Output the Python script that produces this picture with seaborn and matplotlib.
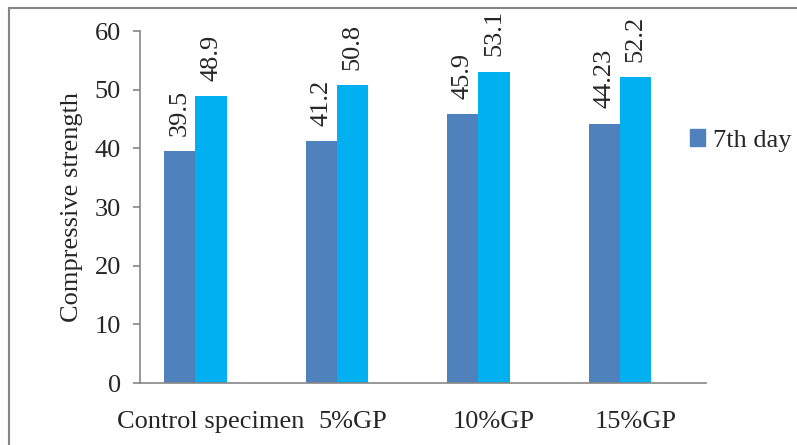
import numpy as np
import pandas as pd
import seaborn as sb
import matplotlib.pyplot as plt
from matplotlib.patches import Patch, Rectangle

#%% Data
categories = ['Control specimen', '5%GP', '10%GP', '15%GP']
day7 = [39.5, 41.2, 45.9, 44.23]
series2 = [48.9, 50.8, 53.1, 52.2]
series3 = [np.nan, np.nan, np.nan, np.nan]   # empty third series (keeps the gap on the right)
series_names = ['7th day', 'series 2', 'series 3']
yticks = [0, 10, 20, 30, 40, 50, 60]

df = pd.DataFrame({
    'category': categories * 3,
    'series': [series_names[0]] * 4 + [series_names[1]] * 4 + [series_names[2]] * 4,
    'value': day7 + series2 + series3})

#%% Style
sb.set_style('white')
plt.rcParams['font.family'] = ['Liberation Serif', 'DejaVu Serif']
gray = '#868686'
dark_blue = '#4F81BD'
light_blue = '#00B0F0'
fs = 19

fig = plt.figure(figsize=(7.97, 4.45), dpi=100)
ax = fig.add_axes([0.176, 0.139, 0.710, 0.791])

sb.barplot(data=df, x='category', y='value', hue='series',
           hue_order=series_names, order=categories,
           palette=[dark_blue, light_blue, '#A5A5A5'],
           width=0.66, errorbar=None, linewidth=0, saturation=1,
           legend=False, ax=ax)

# rotated value labels above the bars
for cont, vals in zip(ax.containers[:2], [day7, series2]):
    ax.bar_label(cont, labels=['{:g}'.format(v) for v in vals],
                 rotation=90, padding=11, fontsize=fs)

ax.set_ylim(0, 60)
ax.set_yticks(yticks)
ax.set_xlim(-0.5, len(categories) - 0.5)
ax.set_xticks(range(len(categories)))
ax.set_xticks(np.arange(-0.5, len(categories)), minor=True)
ax.tick_params(axis='x', which='major', length=0, pad=20, labelsize=fs)
ax.tick_params(axis='x', which='minor', length=6, color=gray, width=1.2)
ax.tick_params(axis='y', length=5, color=gray, width=1.2, labelsize=fs, left=True, pad=9)
ax.set_xlabel('')
ax.set_ylabel('Compressive strength', fontsize=fs, labelpad=8)

for s in ['top', 'right']:
    ax.spines[s].set_visible(False)
for s in ['left', 'bottom']:
    ax.spines[s].set_color(gray)
    ax.spines[s].set_linewidth(1.2)

# legend shows only the first series
fig.legend(handles=[Patch(color=dark_blue)], labels=['7th day'],
           loc='center left', bbox_to_anchor=(0.842, 0.685),
           frameon=False, fontsize=fs, handlelength=0.6, handleheight=0.6,
           handletextpad=0.3, borderpad=0.2)

# outer chart border
fig.patches.append(Rectangle((0.011, -0.1), 1.2, 1.082, transform=fig.transFigure,
                             fill=False, edgecolor=gray, linewidth=1.5))

fig.savefig('out.png', dpi=100)
